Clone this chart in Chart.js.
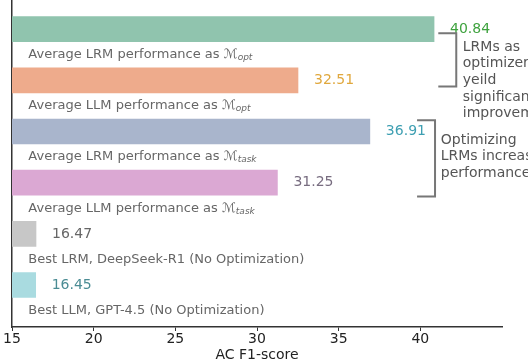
<!DOCTYPE html>
<html>
<head>
<meta charset="utf-8">
<script src="https://cdn.jsdelivr.net/npm/chart.js@4/dist/chart.umd.min.js"></script>
<style>
  html, body { margin: 0; padding: 0; background: #fff; }
  #wrap { width: 528px; height: 364px; }
</style>
</head>
<body>
<div id="wrap"><canvas id="c" width="528" height="364"></canvas></div>
<script>
// ---- data ----
const categoryText = [
  "Average LRM performance as ",
  "Average LLM performance as ",
  "Average LRM performance as ",
  "Average LLM performance as ",
  "Best LRM, DeepSeek-R1 (No Optimization)",
  "Best LLM, GPT-4.5 (No Optimization)"
];
const categorySymbol = ["ℳ", "ℳ", "ℳ", "ℳ", "", ""];
const categorySub = ["opt", "opt", "task", "task", "", ""];
const scores = [40.84, 32.51, 36.91, 31.25, 16.47, 16.45];
const xTicks = [15, 20, 25, 30, 35, 40];
const xTitle = "AC F1-score";
const note1 = ["LRMs as", "optimizer", "yeild", "significant", "improvement"];
const note2 = ["Optimizing", "LRMs increase", "performance"];

// ---- styles ----
const barColors = ["#90c4ae", "#eeab8c", "#a9b5cc", "#dba8d3", "#c7c7c7", "#a9dbe0"];
const valueColors = ["#3ea23e", "#e0a83e", "#3e9fb2", "#786d80", "#666666", "#4b8c94"];
const FONT = "'DejaVu Sans', sans-serif";

// annotation placement (data units)
const brackets = [
  { x0: 41.1, x1: 42.2, y0: 0.08, y1: 1.12, textX: 42.6, textY: 0.35, lines: note1 },
  { x0: 39.8, x1: 40.9, y0: 1.78, y1: 3.27, textX: 41.25, textY: 2.17, lines: note2 }
];

const labelPlugin = {
  id: 'labels',
  afterDatasetsDraw(chart) {
    const ctx = chart.ctx;
    const xs = chart.scales.x, ys = chart.scales.y;
    const meta = chart.getDatasetMeta(0);
    ctx.save();
    ctx.textBaseline = 'middle';
    ctx.textAlign = 'left';
    scores.forEach((v, i) => {
      const bar = meta.data[i];
      // value label
      ctx.font = "14px " + FONT;
      ctx.fillStyle = valueColors[i];
      ctx.fillText(v.toFixed(2), bar.x + 16, bar.y);
      // category label
      const lx = xs.getPixelForValue(16);
      const ly = ys.getPixelForValue(i + 0.5);
      ctx.font = "13px " + FONT;
      ctx.fillStyle = "#666666";
      ctx.fillText(categoryText[i], lx, ly);
      let w = ctx.measureText(categoryText[i]).width;
      if (categorySymbol[i]) {
        ctx.font = "italic 13px " + FONT;
        ctx.fillText(categorySymbol[i], lx + w, ly);
        w += ctx.measureText(categorySymbol[i]).width;
        ctx.font = "italic 9px " + FONT;
        ctx.fillText(categorySub[i], lx + w, ly + 3);
      }
    });
    // brackets & notes
    ctx.strokeStyle = "#777777";
    ctx.lineWidth = 2;
    brackets.forEach(b => {
      const px0 = xs.getPixelForValue(b.x0), px1 = xs.getPixelForValue(b.x1);
      const py0 = ys.getPixelForValue(b.y0), py1 = ys.getPixelForValue(b.y1);
      ctx.beginPath();
      ctx.moveTo(px0, py0); ctx.lineTo(px1, py0); ctx.lineTo(px1, py1); ctx.lineTo(px0, py1);
      ctx.stroke();
      ctx.font = "14px " + FONT;
      ctx.fillStyle = "#555555";
      const tx = xs.getPixelForValue(b.textX);
      const ty = ys.getPixelForValue(b.textY);
      b.lines.forEach((t, k) => ctx.fillText(t, tx, ty + k * 16.6));
    });
    ctx.restore();
  }
};

new Chart(document.getElementById('c'), {
  type: 'bar',
  data: {
    datasets: [{
      data: scores.map((v, i) => ({ x: v, y: i })),
      backgroundColor: barColors,
      borderWidth: 0,
      barThickness: 25
    }]
  },
  options: {
    indexAxis: 'y',
    responsive: false,
    animation: false,
    devicePixelRatio: 1,
    layout: { padding: { left: 12, right: 26, top: 0, bottom: 0 } },
    plugins: { legend: { display: false }, tooltip: { enabled: false } },
    scales: {
      x: {
        type: 'linear',
        position: 'bottom',
        min: 15,
        max: 45,
        afterBuildTicks: (s) => { s.ticks = xTicks.map(v => ({ value: v })); },
        ticks: { font: { family: FONT, size: 14 }, color: '#222222', padding: 0, maxRotation: 0 },
        grid: { drawOnChartArea: false, drawTicks: true, tickLength: 4, color: '#333333' },
        border: { display: true, color: '#333333', width: 1.5 },
        title: { display: true, text: xTitle, font: { family: FONT, size: 14 }, color: '#222222', padding: { top: 0, bottom: 0 } },
        afterFit: (s) => { s.height = 37; }
      },
      y: {
        type: 'linear',
        reverse: true,
        offset: false,
        min: -0.57,
        max: 5.82,
        ticks: { display: false },
        grid: { display: false, drawTicks: false },
        border: { display: true, color: '#333333', width: 1.5 },
        afterFit: (s) => { s.width = 0; }
      }
    }
  },
  plugins: [labelPlugin]
});
</script>
</body>
</html>
